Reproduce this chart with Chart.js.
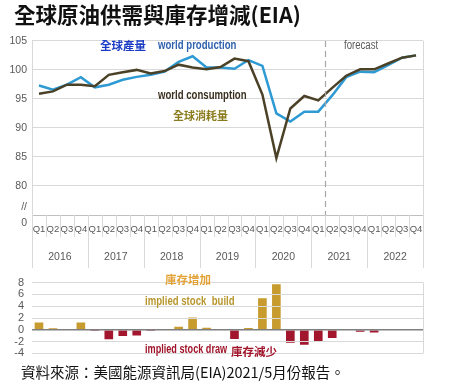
<!DOCTYPE html>
<html>
<head>
<meta charset="utf-8">
<script src="https://cdn.jsdelivr.net/npm/chart.js@4.4.0/dist/chart.umd.min.js"></script>
<style>
  html, body { margin:0; padding:0; background:#ffffff; }
  #wrap { position:relative; width:458px; height:391px; overflow:hidden; background:#fff; }
  .abs { position:absolute; white-space:nowrap; line-height:1; transform:translateY(-50%); }
  .narrow { font-family:'Liberation Sans','Arial',sans-serif; transform-origin:left center; transform:translateY(-50%) scaleX(0.8); }
  canvas { position:absolute; left:0; }
  .cjk { font-family:'Noto Sans CJK TC','Noto Sans CJK SC',sans-serif; }
</style>
</head>
<body>
<div id="wrap">
  <canvas id="top" width="458" height="250" style="top:28px"></canvas>
  <canvas id="bot" width="458" height="100" style="top:268px"></canvas>

  <div class="abs cjk" style="left:14px; top:14px; font-size:21.5px; font-weight:bold; color:#111;">全球原油供需與庫存增減(EIA)</div>

  <div class="abs cjk" style="left:100px; top:46px; font-size:11.5px; font-weight:bold; color:#1a3cc4;">全球產量</div>
  <div class="abs narrow" style="left:158px; top:45px; font-size:12px; font-weight:bold; color:#2f62ae;">world production</div>
  <div class="abs narrow" style="left:158px; top:95px; font-size:12px; font-weight:bold; color:#3a3020;">world consumption</div>
  <div class="abs cjk" style="left:173px; top:115px; font-size:11px; font-weight:bold; color:#8a7b1c;">全球消耗量</div>
  <div class="abs narrow" style="left:344px; top:45px; font-size:12px; color:#595959;">forecast</div>

  <div class="abs cjk" style="left:165px; top:280px; font-size:11.5px; font-weight:bold; color:#e3a236;">庫存增加</div>
  <div class="abs narrow" style="left:145px; top:301px; font-size:12px; font-weight:bold; color:#b8962e;">implied stock&nbsp; build</div>
  <div class="abs narrow" style="left:145px; top:349px; font-size:12px; font-weight:bold; color:#a0142a; transform:translateY(-50%) scaleX(0.76);">implied stock draw</div>
  <div class="abs cjk" style="left:231px; top:352px; font-size:11.5px; font-weight:bold; color:#a0142a;">庫存減少</div>

  <div class="abs cjk" style="left:21px; top:372px; font-size:14.5px; color:#111;">資料來源：美國能源資訊局(EIA)2021/5月份報告。</div>
</div>

<script>
// ---------------- data ----------------
const years = ['2016','2017','2018','2019','2020','2021','2022'];
const quarterNames = ['Q1','Q2','Q3','Q4'];
const production = [97.3, 96.6, 97.45, 98.75, 97.0, 97.45, 98.3, 98.8, 99.15, 99.7, 101.4, 102.35, 100.4, 100.4, 100.2, 101.7, 100.7, 92.5, 91.1, 92.8, 92.8, 95.6, 98.75, 99.7, 99.6, 100.8, 102.1, 102.5];
const consumption = [95.9, 96.3, 97.45, 97.45, 97.2, 99.15, 99.6, 100.0, 99.4, 99.8, 100.9, 100.4, 100.1, 100.5, 101.95, 101.5, 95.75, 84.8, 93.35, 95.5, 94.75, 96.9, 99.0, 100.1, 100.1, 101.1, 102.1, 102.5];
const stockChange = [1.25, 0.25, 0, 1.25, -0.05, -1.6, -1.05, -0.95, -0.2, 0, 0.5, 2.1, 0.35, 0.05, -1.55, 0.3, 5.35, 7.7, -2.2, -2.55, -2.0, -1.4, 0, -0.35, -0.45, 0.15, 0, 0.15];
const topTicks = [75, 80, 85, 90, 95, 100, 105];
const forecastIndex = 21; // forecast starts at 2021 Q2

// labels built from the arrays above
const labels = [];
years.forEach(y => quarterNames.forEach(q => labels.push(q)));

const FONT = "'Liberation Sans','Arial',sans-serif";
const GRID = '#d9d9d9';

function boundaryX(scale, i) {
  const step = scale.getPixelForTick(1) - scale.getPixelForTick(0);
  return scale.getPixelForTick(0) - step / 2 + step * i;
}

const topDecor = {
  id: 'topDecor',
  afterDraw(chart) {
    const ctx = chart.ctx, x = chart.scales.x, a = chart.chartArea;
    ctx.save();
    ctx.strokeStyle = GRID; ctx.lineWidth = 1;
    for (let i = 0; i <= labels.length; i++) {
      const px = Math.round(boundaryX(x, i)) + 0.5;
      const yearLine = i % 4 === 0;
      ctx.beginPath();
      ctx.moveTo(px, yearLine && (i === 0 || i === labels.length) ? a.top : a.bottom);
      ctx.lineTo(px, a.bottom + (yearLine ? 53 : 22));
      ctx.stroke();
    }
    const fx = Math.round(boundaryX(x, forecastIndex)) + 0.5;
    ctx.strokeStyle = '#a6a6a6'; ctx.setLineDash([6, 4]); ctx.lineWidth = 1.2;
    ctx.beginPath(); ctx.moveTo(fx, a.top); ctx.lineTo(fx, a.bottom); ctx.stroke();
    ctx.restore();
  }
};

const botDecor = {
  id: 'botDecor',
  afterDraw(chart) {
    const ctx = chart.ctx, x = chart.scales.x, a = chart.chartArea;
    ctx.save();
    ctx.strokeStyle = GRID; ctx.lineWidth = 1;
    const rx = Math.round(a.right) + 0.5;
    ctx.beginPath(); ctx.moveTo(rx, a.top); ctx.lineTo(rx, a.bottom); ctx.stroke();
    const fx = Math.round(boundaryX(x, forecastIndex)) + 0.5;
    ctx.strokeStyle = '#a6a6a6'; ctx.setLineDash([6, 4]); ctx.lineWidth = 1.2;
    ctx.beginPath(); ctx.moveTo(fx, a.top); ctx.lineTo(fx, a.bottom + 2); ctx.stroke();
    ctx.restore();
  }
};

new Chart(document.getElementById('top'), {
  type: 'line',
  data: {
    labels: labels,
    datasets: [
      { label: 'world consumption', data: consumption, borderColor: '#4b4127', borderWidth: 2.5, pointRadius: 0, tension: 0, fill: false },
      { label: 'world production', data: production, borderColor: '#2e9ad4', borderWidth: 2.5, pointRadius: 0, tension: 0, fill: false }
    ]
  },
  options: {
    responsive: false, animation: false, devicePixelRatio: 1,
    layout: { padding: { top: 9, right: 35, left: 0, bottom: 0 } },
    plugins: { legend: { display: false }, tooltip: { enabled: false } },
    scales: {
      y: {
        min: 75, max: 105,
        afterBuildTicks: s => { s.ticks = topTicks.map(v => ({ value: v })); },
        afterFit: s => { s.width = 32; },
        ticks: {
          autoSkip: false,
          color: '#595959', padding: 5,
          font: { family: FONT, size: 10.5, lineHeight: 1.5 },
          callback: v => v === 75 ? ['//', '0'] : String(v)
        },
        grid: { color: c => (c.tick && c.tick.value === 75) ? '#bfbfbf' : GRID, drawTicks: false },
        border: { color: GRID }
      },
      x: {
        offset: true,
        grid: { display: false, drawTicks: false },
        border: { display: false },
        ticks: { autoSkip: false, maxRotation: 0, color: '#595959', padding: 9, font: { family: FONT, size: 9.5 } },
        afterFit: s => { s.height = 28; }
      },
      x2: {
        type: 'category', labels: years, position: 'bottom', offset: true,
        grid: { display: false, drawTicks: false },
        border: { display: false },
        ticks: { autoSkip: false, maxRotation: 0, color: '#595959', padding: 8, font: { family: FONT, size: 10.5 } },
        afterFit: s => { s.height = 35; }
      }
    }
  },
  plugins: [topDecor]
});

new Chart(document.getElementById('bot'), {
  type: 'bar',
  data: {
    labels: labels,
    datasets: [{
      label: 'implied stock change', data: stockChange,
      backgroundColor: c => (c.raw >= 0 ? '#c89b2e' : '#a3172e'),
      categoryPercentage: 1, barPercentage: 0.62
    }]
  },
  options: {
    responsive: false, animation: false, devicePixelRatio: 1,
    layout: { padding: { top: 12, right: 35, left: 0, bottom: 11 } },
    plugins: { legend: { display: false }, tooltip: { enabled: false } },
    scales: {
      x: { display: false, offset: true },
      y: {
        min: -4, max: 8,
        afterFit: s => { s.width = 32; },
        ticks: { autoSkip: false, stepSize: 2, color: '#595959', padding: 8, font: { family: FONT, size: 11 } },
        grid: {
          color: c => (c.tick && c.tick.value === 0) ? '#7f7f7f' : GRID,
          lineWidth: c => (c.tick && c.tick.value === 0) ? 1.5 : 1,
          drawTicks: false, z: 1
        },
        border: { display: false }
      }
    }
  },
  plugins: [botDecor]
});
</script>
</body>
</html>
